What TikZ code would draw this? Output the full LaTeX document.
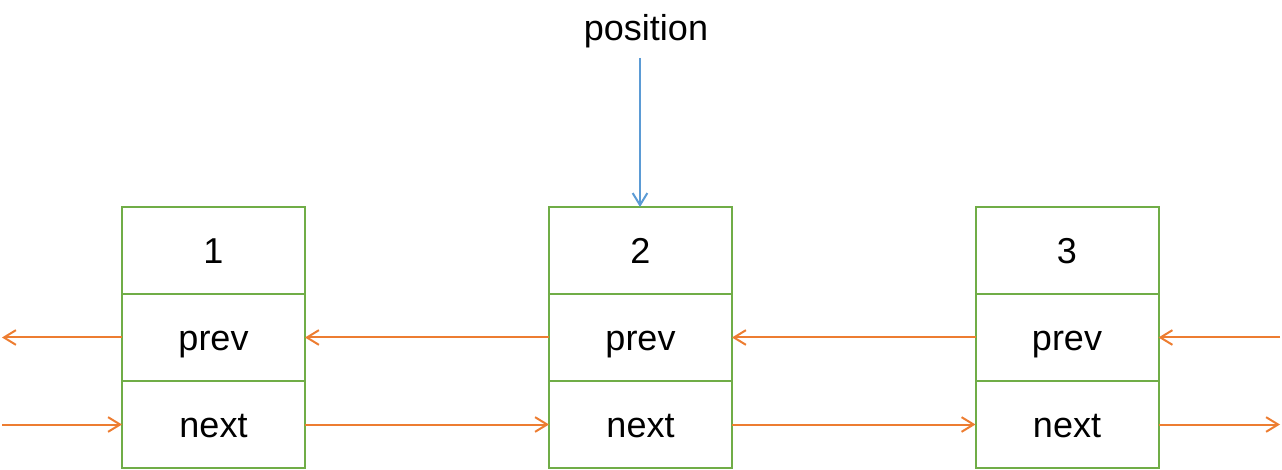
\documentclass[tikz,border=0pt]{standalone}
\usepackage{fontspec}
\setmainfont{Liberation Sans}
\usetikzlibrary{arrows.meta}
\definecolor{cgreen}{RGB}{112,173,71}
\definecolor{corange}{RGB}{237,125,49}
\definecolor{cblue}{RGB}{91,155,213}
\begin{document}
\begin{tikzpicture}[x=0.75pt,y=-0.75pt,
  lbl/.style={font=\fontsize{27}{31}\selectfont},
  cell/.style={lbl,draw=cgreen,line width=1.5pt,minimum width=137.25pt,minimum height=65.25pt,inner sep=0pt,outer sep=0pt,text height=20pt,text depth=0pt},
  oarrow/.style={draw=corange,line width=1.5pt,-{Straight Barb[length=9pt,width=11pt,line width=1.5pt]}},
  barrow/.style={draw=cblue,line width=1.5pt,-{Straight Barb[length=9pt,width=11pt,line width=1.5pt]}}]
\useasboundingbox (0,0) rectangle (1282,470);
% box 1
\node[cell] (b1t) at (213.5,250.5) {1};
\node[cell] (b1p) at (213.5,337.5) {prev};
\node[cell] (b1n) at (213.5,424.5) {next};
% box 2
\node[cell] (b2t) at (640.5,250.5) {2};
\node[cell] (b2p) at (640.5,337.5) {prev};
\node[cell] (b2n) at (640.5,424.5) {next};
% box 3
\node[cell] (b3t) at (1067,250.5) {3};
\node[cell] (b3p) at (1067,337.5) {prev};
\node[cell] (b3n) at (1067,424.5) {next};
% position
\node[lbl,inner sep=0pt,anchor=base] (pos) at (646,41) {position};
\coordinate (posend) at (640,58);
\draw[barrow] (posend) -- (b2t.north -| posend);
% free ends
\coordinate (lp) at (2,337.5);
\coordinate (ln) at (2,424.5);
\coordinate (rp) at (1280,337.5);
\coordinate (rn) at (1280,424.5);
% prev arrows
\draw[oarrow] (b1p.west) -- (lp);
\draw[oarrow] (b2p.west) -- (b1p.east);
\draw[oarrow] (b3p.west) -- (b2p.east);
\draw[oarrow] (rp) -- (b3p.east);
% next arrows
\draw[oarrow] (ln) -- (b1n.west);
\draw[oarrow] (b1n.east) -- (b2n.west);
\draw[oarrow] (b2n.east) -- (b3n.west);
\draw[oarrow] (b3n.east) -- (rn);
\end{tikzpicture}
\end{document}
